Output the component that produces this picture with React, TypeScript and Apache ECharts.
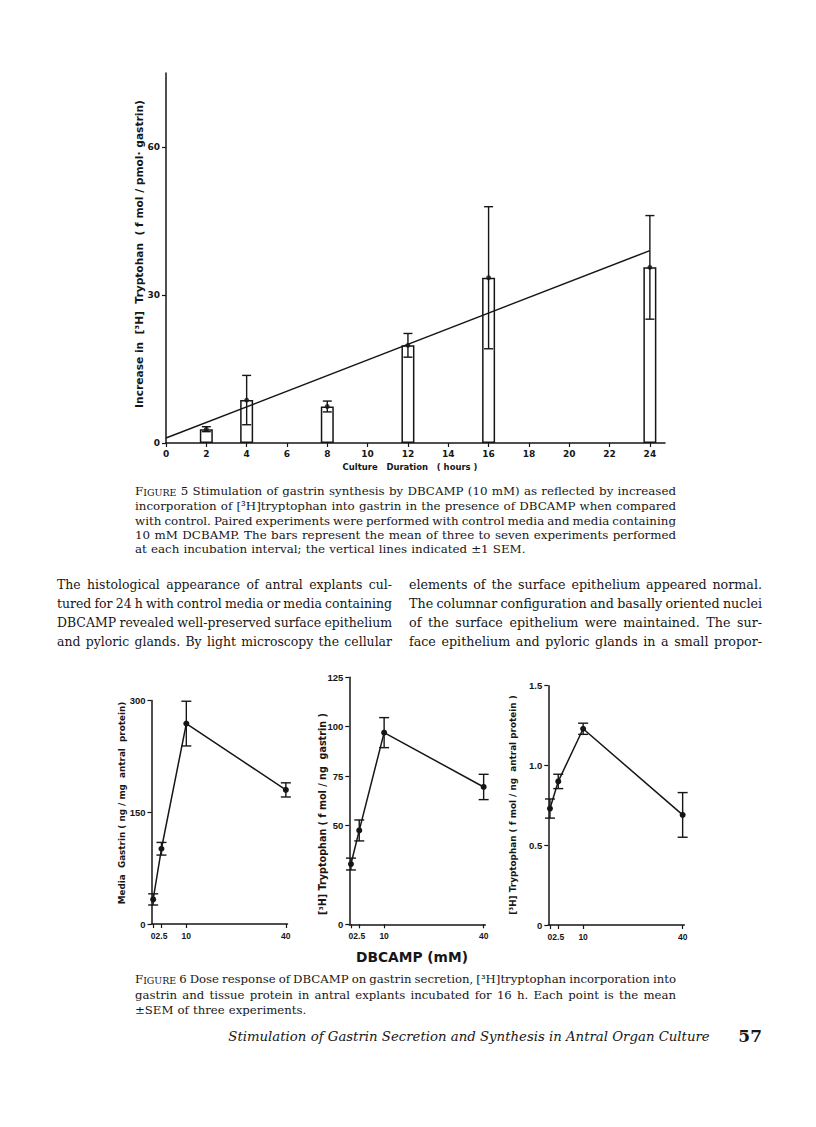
import React, { useEffect, useRef } from 'react';
import * as echarts from 'echarts';

// ---------------- data (read from the page) ----------------
// Figure 5
const fig5Hours = [2, 4, 8, 12, 16, 24];
const fig5Mean = [2.8, 8.7, 7.4, 19.8, 33.5, 35.6];
const fig5Sem = [0.5, 5.0, 1.1, 2.4, 14.4, 10.5];
const fig5FitHours = [0, 24];
const fig5FitValues = [1.0, 39.0];
const fig5XTicks = [0, 2, 4, 6, 8, 10, 12, 14, 16, 18, 20, 22, 24];
const fig5YTicks = [0, 30, 60];

// Figure 6
const fig6Dose = [0, 2.5, 10, 40];
const fig6DoseTicks = [0, 2.5, 10, 40];
const gastrinMean = [33, 101, 269, 180];
const gastrinSem = [7.5, 8.5, 30, 9.5];
const gastrinTicks = [0, 150, 300];
const trpGastrinMean = [30.5, 47.5, 97, 69.5];
const trpGastrinSem = [3, 5.3, 7.6, 6.4];
const trpGastrinTicks = [0, 50, 75, 100, 125];
const trpProteinMean = [0.73, 0.9, 1.23, 0.69];
const trpProteinSem = [0.06, 0.045, 0.035, 0.14];
const trpProteinTicks = [0, 0.5, 1.0, 1.5];

// Texts
const fig5YName = 'Increase in  [³H]  Tryptohan  ( f mol / pmol· gastrin)';
const fig5XName = 'Culture   Duration   ( hours )';
const fig6YNames = [
  'Media  Gastrin ( ng / mg  antral  protein)',
  '[³H] Tryptophan ( f mol / ng  gastrin )',
  '[³H] Tryptophan ( f mol / ng  antral protein )',
];
const fig6XName = 'DBCAMP (mM)';
const caption5 = [
  'FIGURE 5  Stimulation of gastrin synthesis by DBCAMP (10 mM) as reflected by increased',
  'incorporation of [³H]tryptophan into gastrin in the presence of DBCAMP when compared',
  'with control. Paired experiments were performed with control media and media containing',
  '10 mM DCBAMP. The bars represent the mean of three to seven experiments performed',
  'at each incubation interval; the vertical lines indicated ±1 SEM.',
];
const bodyLeft = [
  'The histological appearance of antral explants cul-',
  'tured for 24 h with control media or media containing',
  'DBCAMP revealed well-preserved surface epithelium',
  'and pyloric glands. By light microscopy the cellular',
];
const bodyRight = [
  'elements of the surface epithelium appeared normal.',
  'The columnar configuration and basally oriented nuclei',
  'of the surface epithelium were maintained. The sur-',
  'face epithelium and pyloric glands in a small propor-',
];
const caption6 = [
  'FIGURE 6  Dose response of DBCAMP on gastrin secretion, [³H]tryptophan incorporation into',
  'gastrin and tissue protein in antral explants incubated for 16 h. Each point is the mean',
  '±SEM of three experiments.',
];
const footerTitle = 'Stimulation of Gastrin Secretion and Synthesis in Antral Organ Culture';
const pageNumber = '57';

const INK = '#161616';
const SANS = 'DejaVu Sans';
const NARROW = 'Liberation Sans';
const SERIF = 'DejaVu Serif';

export default function App() {
  const ref = useRef<HTMLDivElement>(null);

  useEffect(() => {
    const el = ref.current;
    if (!el) return;
    const chart = echarts.init(el, null, { renderer: 'svg', width: 816, height: 1127 });

    const ctx = document.createElement('canvas').getContext('2d') as CanvasRenderingContext2D;
    const measure = (t: string, size: number, fam: string, weight = 'normal', fstyle = 'normal') => {
      ctx.font = `${fstyle} ${weight} ${size}px "${fam}"`;
      return ctx.measureText(t).width;
    };

    const SC = 'FIGURE';
    const wordW = (w: string, size: number, fam: string, fstyle: string) =>
      w === SC ? measure('F', size, fam) + measure('IGURE', size * 0.8, fam) : measure(w, size, fam, 'normal', fstyle);

    const wordEl = (w: string, x: number, y: number, size: number, fam: string, fstyle: string) => {
      const base: any = {
        fill: INK, fontSize: size, fontFamily: fam, fontStyle: fstyle,
        textAlign: 'left', textVerticalAlign: 'middle', align: 'left', verticalAlign: 'middle',
      };
      if (w === SC) {
        base.text = '{a|F}{b|IGURE}';
        base.rich = {
          a: { fontSize: size, fontFamily: fam, fill: INK, verticalAlign: 'bottom' },
          b: { fontSize: size * 0.8, fontFamily: fam, fill: INK, verticalAlign: 'bottom' },
        };
      } else {
        base.text = w;
      }
      return { type: 'text', x, y, silent: true, style: base };
    };

    // lay out a block of lines, justified to width (except a ragged last line)
    const block = (lines: string[], x0: number, width: number, ys: number[], maxSize: number,
      fam: string, lastRagged: boolean, fstyle = 'normal') => {
      let size = maxSize;
      lines.forEach((ln, i) => {
        if (lastRagged && i === lines.length - 1) return;
        const wds = ln.split(/\s+/);
        const natural = wds.reduce((s, w) => s + wordW(w, 1, fam, fstyle), 0) + (wds.length - 1) * measure(' ', 1, fam) * 0.8;
        size = Math.min(size, width / natural);
      });
      const out: any[] = [];
      lines.forEach((ln, i) => {
        const wds = ln.split(/\s+/);
        const ws = wds.map((w) => wordW(w, size, fam, fstyle));
        const total = ws.reduce((a, b) => a + b, 0);
        const ragged = lastRagged && i === lines.length - 1;
        const gap = ragged || wds.length < 2 ? measure(' ', size, fam) * 1.1 : (width - total) / (wds.length - 1);
        let x = x0;
        wds.forEach((w, k) => {
          out.push(wordEl(w, x, ys[i], size, fam, fstyle));
          x += ws[k] + gap;
        });
      });
      return out;
    };

    const fitSize = (t: string, fam: string, weight: string, target: number) => 10 * target / measure(t, 10, fam, weight);

    const rotName = (t: string, x: number, y: number, len: number) => ({
      type: 'text', x, y, rotation: Math.PI / 2, silent: true,
      style: {
        text: t, fill: INK, fontFamily: SANS, fontWeight: 'bold', fontSize: fitSize(t, SANS, 'bold', len),
        textAlign: 'center', textVerticalAlign: 'middle', align: 'center', verticalAlign: 'middle',
      },
    });
    const flatText = (t: string, x: number, y: number, size: number, fam: string, weight = 'normal', fstyle = 'normal', align = 'center') => ({
      type: 'text', x, y, silent: true,
      style: {
        text: t, fill: INK, fontFamily: fam, fontWeight: weight, fontStyle: fstyle, fontSize: size,
        textAlign: align, textVerticalAlign: 'middle', align, verticalAlign: 'middle',
      },
    });

    const graphics: any[] = [
      rotName(fig5YName, 139, 254, 308),
      flatText(fig5XName, 410, 467, fitSize(fig5XName, SANS, 'bold', 135), SANS, 'bold'),
      rotName(fig6YNames[0], 122, 803, 203),
      rotName(fig6YNames[1], 322, 814, 202),
      rotName(fig6YNames[2], 513, 805, 220),
      flatText(fig6XName, 412, 957, fitSize(fig6XName, SANS, 'bold', 112), SANS, 'bold'),
      ...block(caption5, 135, 541, [491, 506, 521, 535, 549], 12, SERIF, true),
      ...block(bodyLeft, 57, 335, [584, 603, 622, 641], 13, SERIF, false),
      ...block(bodyRight, 409, 353, [584, 603, 622, 641], 13, SERIF, false),
      ...block(caption6, 135, 541, [979, 995, 1010], 12, SERIF, true),
      flatText(footerTitle, 469, 1036, fitSize(footerTitle, SERIF, 'normal', 482), SERIF, 'normal', 'italic'),
      flatText(pageNumber, 762, 1036, 17, SERIF, 'bold', 'normal', 'right'),
    ];

    const lineSt = { color: INK, width: 1.5 };
    const xAx = (grid: number, min: number, max: number, ticks: number[], fs: number, margin: number, fam: string) => ({
      type: 'value', gridIndex: grid, min, max,
      axisLine: { show: true, onZero: false, lineStyle: lineSt },
      axisTick: { show: true, customValues: ticks, length: 4, lineStyle: { color: INK, width: 1.2 } },
      axisLabel: {
        customValues: ticks, color: INK, fontFamily: fam, fontWeight: 'bold', fontSize: fs, margin,
        showMinLabel: true, showMaxLabel: true, hideOverlap: false,
        formatter: (v: number) => String(v),
      },
      splitLine: { show: false },
    });
    const yAx = (grid: number, min: number, max: number, ticks: number[], fs: number, fam: string, fmt?: (v: number) => string) => ({
      type: 'value', gridIndex: grid, min, max,
      axisLine: { show: true, onZero: false, lineStyle: lineSt },
      axisTick: { show: true, customValues: ticks, length: 4, lineStyle: { color: INK, width: 1.2 } },
      axisLabel: {
        customValues: ticks, color: INK, fontFamily: fam, fontWeight: 'bold', fontSize: fs, margin: 6,
        showMinLabel: true, showMaxLabel: true, hideOverlap: false,
        formatter: fmt || ((v: number) => String(v)),
      },
      splitLine: { show: false },
    });

    const errBars = (idx: number, xs: number[], mean: number[], sem: number[], cap: number) => ({
      type: 'custom', xAxisIndex: idx, yAxisIndex: idx, z: 5, silent: true,
      data: xs.map((x, i) => [x, mean[i] - sem[i], mean[i] + sem[i]]),
      encode: { x: 0, y: [1, 2] },
      renderItem: (_p: any, api: any) => {
        const x = api.value(0);
        const p1 = api.coord([x, api.value(2)]);
        const p2 = api.coord([x, api.value(1)]);
        const st = { stroke: INK, lineWidth: 1.4, fill: 'none' };
        return {
          type: 'group',
          children: [
            { type: 'line', shape: { x1: p1[0], y1: p1[1], x2: p2[0], y2: p2[1] }, style: st },
            { type: 'line', shape: { x1: p1[0] - cap / 2, y1: p1[1], x2: p1[0] + cap / 2, y2: p1[1] }, style: st },
            { type: 'line', shape: { x1: p2[0] - cap / 2, y1: p2[1], x2: p2[0] + cap / 2, y2: p2[1] }, style: st },
          ],
        };
      },
    });

    const doseLine = (idx: number, mean: number[]) => ({
      type: 'line', xAxisIndex: idx, yAxisIndex: idx, z: 4, silent: true,
      data: fig6Dose.map((d, i) => [d, mean[i]]),
      symbol: 'circle', symbolSize: 6, showSymbol: true,
      lineStyle: { color: INK, width: 1.5 }, itemStyle: { color: INK },
    });

    const option: any = {
      animation: false,
      backgroundColor: '#ffffff',
      grid: [
        { left: 166, top: 73, width: 499, height: 370 },
        { left: 151.5, top: 700.5, width: 136, height: 223.5 },
        { left: 349.3, top: 677.3, width: 136, height: 247 },
        { left: 548.3, top: 685.7, width: 136, height: 239.3 },
      ],
      xAxis: [
        xAx(0, 0, 24.75, fig5XTicks, 9, 6, SANS),
        xAx(1, -0.5, 40.5, fig6DoseTicks, 8.5, 7, NARROW),
        xAx(2, -0.5, 40.5, fig6DoseTicks, 8.5, 7, NARROW),
        xAx(3, -0.5, 40.5, fig6DoseTicks, 8.5, 7, NARROW),
      ],
      yAxis: [
        yAx(0, 0, 75, fig5YTicks, 9, SANS),
        yAx(1, 0, 300, gastrinTicks, 9.5, NARROW),
        yAx(2, 0, 125, trpGastrinTicks, 9.5, NARROW),
        yAx(3, 0, 1.5, trpProteinTicks, 9.5, NARROW, (v: number) => (v === 0 ? '0' : v.toFixed(1))),
      ],
      series: [
        {
          type: 'bar', xAxisIndex: 0, yAxisIndex: 0, z: 2, silent: true,
          data: fig5Hours.map((h, i) => [h, fig5Mean[i]]),
          barWidth: 13,
          itemStyle: { color: '#ffffff', borderColor: INK, borderWidth: 1.5 },
        },
        {
          type: 'line', xAxisIndex: 0, yAxisIndex: 0, z: 3, silent: true,
          data: fig5FitHours.map((h, i) => [h, fig5FitValues[i]]),
          symbol: 'none', lineStyle: { color: INK, width: 1.5 },
        },
        errBars(0, fig5Hours, fig5Mean, fig5Sem, 9),
        {
          type: 'scatter', xAxisIndex: 0, yAxisIndex: 0, z: 6, silent: true,
          data: fig5Hours.map((h, i) => [h, fig5Mean[i]]),
          symbol: 'circle', symbolSize: 5, itemStyle: { color: INK },
        },
        doseLine(1, gastrinMean),
        errBars(1, fig6Dose, gastrinMean, gastrinSem, 10),
        doseLine(2, trpGastrinMean),
        errBars(2, fig6Dose, trpGastrinMean, trpGastrinSem, 10),
        doseLine(3, trpProteinMean),
        errBars(3, fig6Dose, trpProteinMean, trpProteinSem, 10),
      ],
      graphic: { elements: graphics },
    };

    chart.setOption(option);
    return () => chart.dispose();
  }, []);

  return (
    <div
      ref={ref}
      style={{ position: 'absolute', left: 0, top: 0, width: 816, height: 1127, background: '#ffffff' }}
    />
  );
}
